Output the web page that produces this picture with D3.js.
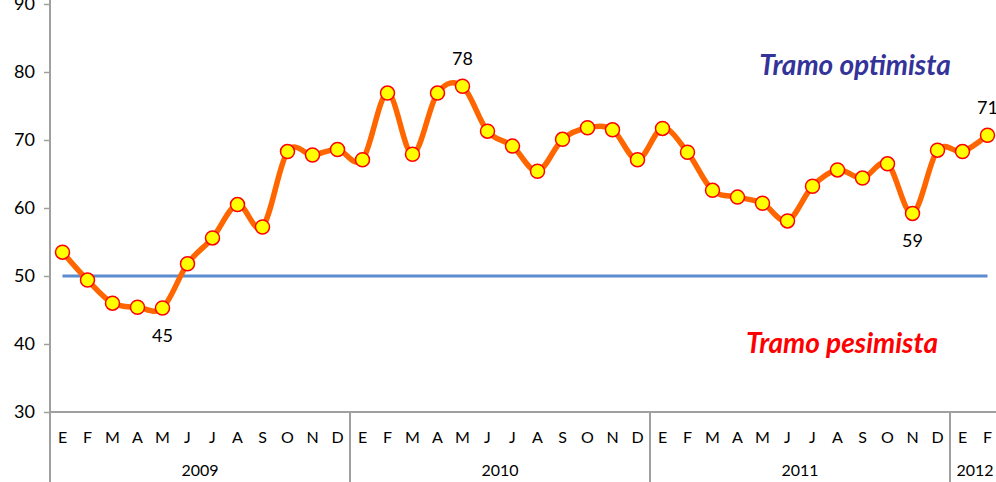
<html>
  <head>
    <style>
      body { margin: 0; background: #fff; }
      text { font-family: Lato, "Open Sans", sans-serif; fill: #000; }
    </style>
  </head>
  <body>
    <script src="https://d3js.org/d3.v7.min.js"></script>
    <script>
    var width = 996, height = 482;

    // months (Spanish initials) and years
    var months = ["E","F","M","A","M","J","J","A","S","O","N","D"];
    var years = ["2009","2010","2011","2012"];
    var monthsPerYear = [12, 12, 12, 2];

    // index values, one per month from Jan 2009 to Feb 2012
    var values2009 = [53.5, 49.4, 46.0, 45.4, 45.3, 51.8, 55.6, 60.5, 57.2, 68.3, 67.8, 68.6];
    var values2010 = [67.1, 76.9, 67.9, 76.9, 77.9, 71.3, 69.1, 65.4, 70.1, 71.8, 71.5, 67.1];
    var values2011 = [71.7, 68.2, 62.6, 61.6, 60.7, 58.1, 63.2, 65.6, 64.4, 66.5, 59.2, 68.5];
    var values2012 = [68.3, 70.7];

    var yTicks = [30, 40, 50, 60, 70, 80, 90];
    var threshold = 50;
    // points that get a value label, and where it sits
    var labelled = [{i: 4, pos: "below"}, {i: 16, pos: "above"}, {i: 34, pos: "below"}, {i: 37, pos: "above"}];

    var values = values2009.concat(values2010, values2011, values2012);
    var data = [];
    years.forEach(function(y, yi) {
      for (var m = 0; m < monthsPerYear[yi]; m++) {
        data.push({key: y + "-" + m, month: months[m], year: y, value: values[data.length]});
      }
    });

    var plotLeft = 50, plotBottom = 412, plotTop = 4;

    var svg = d3.select("body").append("svg")
        .attr("width", width)
        .attr("height", height);

    var x = d3.scaleBand()
        .domain(data.map(function(d) { return d.key; }))
        .range([plotLeft, plotLeft + data.length * 25]);

    var y = d3.scaleLinear()
        .domain([30, 90])
        .range([plotBottom, plotTop]);

    var cx = function(d) { return x(d.key) + x.bandwidth() / 2; };

    // y axis
    var yAxis = svg.append("g")
        .attr("transform", "translate(" + plotLeft + ",0)")
        .call(d3.axisLeft(y).tickValues(yTicks).tickSize(6).tickPadding(9));
    yAxis.select(".domain").remove();
    yAxis.selectAll("line").attr("stroke", "#a0a0a0").attr("stroke-width", 1.5);
    yAxis.selectAll("text").style("font-size", "18px").attr("fill", "#000");
    svg.append("line")
        .attr("x1", plotLeft).attr("x2", plotLeft)
        .attr("y1", 0).attr("y2", height)
        .attr("stroke", "#a0a0a0").attr("stroke-width", 2);

    // x axis line
    svg.append("line")
        .attr("x1", plotLeft).attr("x2", width)
        .attr("y1", plotBottom).attr("y2", plotBottom)
        .attr("stroke", "#a0a0a0").attr("stroke-width", 2);

    // year separators
    var start = 0;
    var yearPos = [];
    monthsPerYear.forEach(function(n, yi) {
      var x0 = x(data[start].key);
      var x1 = x(data[start + n - 1].key) + x.bandwidth();
      yearPos.push({year: years[yi], x0: x0, x1: x1});
      start += n;
    });
    svg.selectAll(".sep")
        .data(yearPos.slice(1))
        .enter().append("line")
        .attr("x1", function(d) { return d.x0; })
        .attr("x2", function(d) { return d.x0; })
        .attr("y1", plotBottom).attr("y2", height)
        .attr("stroke", "#a0a0a0").attr("stroke-width", 2);

    svg.selectAll(".month")
        .data(data)
        .enter().append("text")
        .attr("x", cx)
        .attr("y", 443)
        .attr("text-anchor", "middle")
        .style("font-size", "16px")
        .text(function(d) { return d.month; });

    svg.selectAll(".year")
        .data(yearPos)
        .enter().append("text")
        .attr("x", function(d) { return (d.x0 + d.x1) / 2; })
        .attr("y", 476)
        .attr("text-anchor", "middle")
        .style("font-size", "16px")
        .text(function(d) { return d.year; });

    // threshold line at 50
    svg.append("line")
        .attr("x1", cx(data[0])).attr("x2", cx(data[data.length - 1]))
        .attr("y1", y(threshold)).attr("y2", y(threshold))
        .attr("stroke", "#5b8bd0").attr("stroke-width", 3);

    // series
    var line = d3.line()
        .x(cx)
        .y(function(d) { return y(d.value); })
        .curve(d3.curveCatmullRom.alpha(0));

    svg.append("path")
        .datum(data)
        .attr("d", line)
        .attr("fill", "none")
        .attr("stroke", "#ff6600")
        .attr("stroke-width", 5.5)
        .attr("stroke-linejoin", "round");

    svg.selectAll(".dot")
        .data(data)
        .enter().append("circle")
        .attr("cx", cx)
        .attr("cy", function(d) { return y(d.value); })
        .attr("r", 7)
        .attr("fill", "#ffff00")
        .attr("stroke", "#ff0000")
        .attr("stroke-width", 1.5);

    svg.selectAll(".vlabel")
        .data(labelled)
        .enter().append("text")
        .attr("x", function(d) { return cx(data[d.i]); })
        .attr("y", function(d) { return y(data[d.i].value) + (d.pos == "below" ? 34 : -21); })
        .attr("text-anchor", "middle")
        .style("font-size", "18px")
        .text(function(d) { return Math.round(data[d.i].value); });

    // zone labels
    svg.append("text")
        .attr("x", 855).attr("y", 75)
        .attr("text-anchor", "middle")
        .style("font-size", "28px").style("font-weight", "bold").style("font-style", "italic")
        .style("fill", "#333399")
        .text("Tramo optimista");

    svg.append("text")
        .attr("x", 842).attr("y", 353)
        .attr("text-anchor", "middle")
        .style("font-size", "28px").style("font-weight", "bold").style("font-style", "italic")
        .style("fill", "#ff0000")
        .text("Tramo pesimista");
    </script>
  </body>
</html>
